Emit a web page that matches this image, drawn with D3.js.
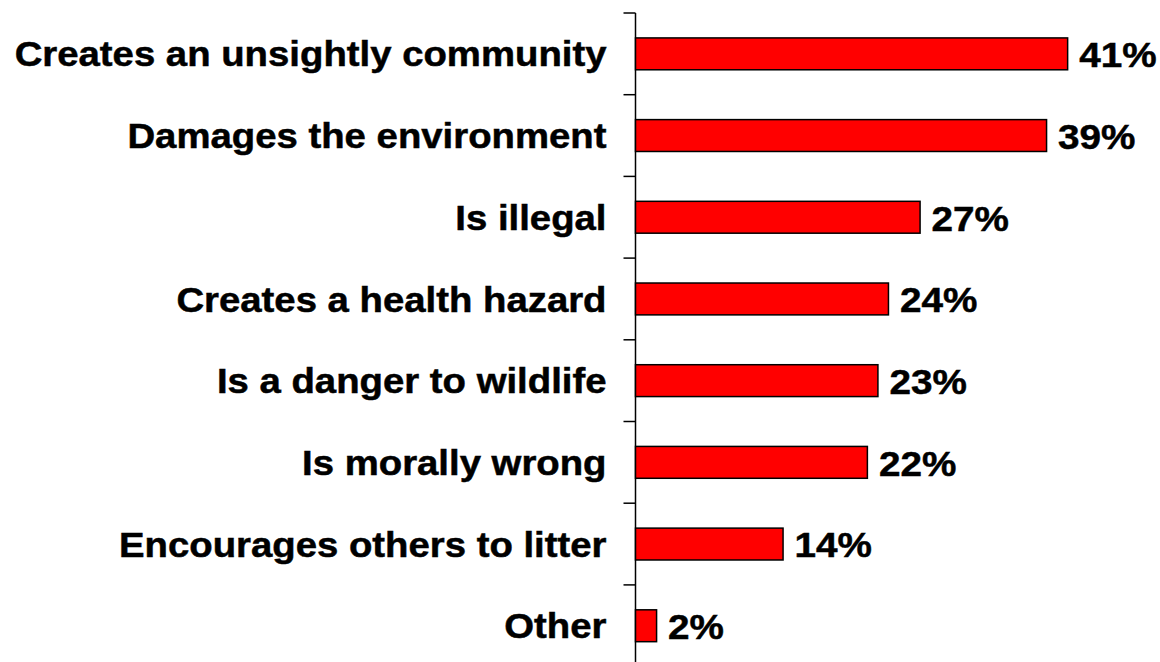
<!DOCTYPE html>
<html>
<head>
<meta charset="utf-8">
<script src="https://cdn.jsdelivr.net/npm/d3@7"></script>
<style>
  html, body { margin: 0; padding: 0; background: #fff; }
  svg { display: block; }
  text { font-family: "Liberation Sans", Arial, sans-serif; font-weight: bold; fill: #000; stroke: #000; stroke-width: 0.5px; }
</style>
</head>
<body>
<svg id="chart" width="1160" height="662"></svg>
<script>
// Reasons given for why littering is wrong (% of respondents)
const categories = [
  "Creates an unsightly community",
  "Damages the environment",
  "Is illegal",
  "Creates a health hazard",
  "Is a danger to wildlife",
  "Is morally wrong",
  "Encourages others to litter",
  "Other"
];
const values = [41, 39, 27, 24, 23, 22, 14, 2];

const svg = d3.select("#chart");
const axisX = 635.5;
const plotTop = 13, step = 81.7;

const x = d3.scaleLinear().domain([0, 50]).range([axisX, axisX + 527]);
const y = d3.scaleBand()
  .domain(categories)
  .range([plotTop, plotTop + step * categories.length])
  .paddingInner(0.61)
  .paddingOuter(0.305);

// Category axis with ticks on band boundaries
svg.append("line")
  .attr("x1", axisX).attr("x2", axisX)
  .attr("y1", plotTop).attr("y2", 662)
  .attr("stroke", "#000").attr("stroke-width", 1.5);

d3.range(categories.length + 1).forEach(i => {
  const ty = plotTop + step * i;
  svg.append("line")
    .attr("x1", axisX - 12).attr("x2", axisX)
    .attr("y1", ty).attr("y2", ty)
    .attr("stroke", "#000").attr("stroke-width", 1.5);
});

const data = categories.map((c, i) => ({ c, v: values[i] }));

svg.selectAll("rect.bar").data(data).enter().append("rect")
  .attr("class", "bar")
  .attr("x", x(0))
  .attr("y", d => y(d.c))
  .attr("width", d => x(d.v) - x(0))
  .attr("height", y.bandwidth())
  .attr("fill", "#ff0000")
  .attr("stroke", "#000")
  .attr("stroke-width", 1.5);

// Wide bold lettering: slightly stretched horizontally
svg.selectAll("text.cat").data(data).enter().append("text")
  .attr("class", "cat")
  .attr("transform", d => `translate(${axisX - 29},${y(d.c) + y.bandwidth() / 2}) scale(1.095,1)`)
  .attr("dy", "0.36em")
  .attr("text-anchor", "end")
  .style("font-size", "35px")
  .text(d => d.c);

svg.selectAll("text.val").data(data).enter().append("text")
  .attr("class", "val")
  .attr("transform", d => `translate(${x(d.v) + 11.5},${y(d.c) + y.bandwidth() / 2}) scale(1.075,1)`)
  .attr("dy", "0.37em")
  .style("font-size", "36px")
  .text(d => d.v + "%");
</script>
</body>
</html>
